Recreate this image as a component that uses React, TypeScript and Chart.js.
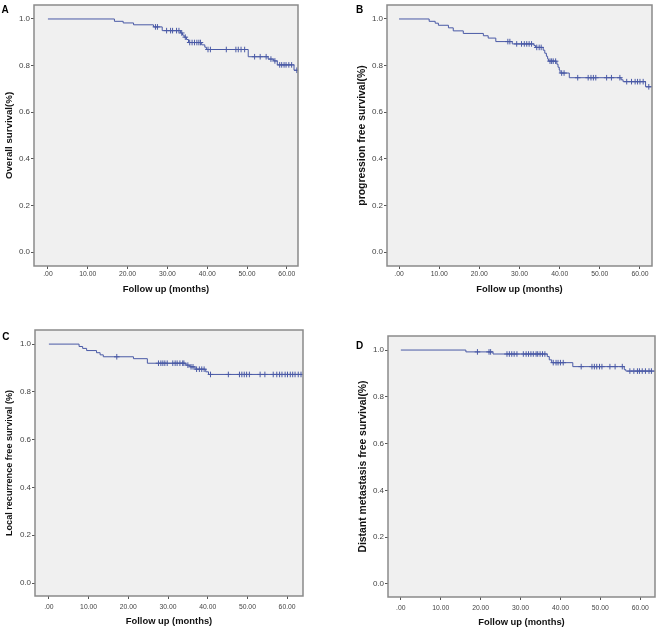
import React, { useEffect, useRef } from "react";
import { Chart, registerables } from "chart.js";

Chart.register(...registerables);

// ---------- data ----------
const X_TICKS = [0, 10, 20, 30, 40, 50, 60];
const X_TICK_LABELS = [".00", "10.00", "20.00", "30.00", "40.00", "50.00", "60.00"];
const Y_TICKS = [0, 0.2, 0.4, 0.6, 0.8, 1.0];
const Y_TICK_LABELS = ["0.0", "0.2", "0.4", "0.6", "0.8", "1.0"];
const X_TITLE = "Follow up (months)";

// A: Overall survival
const OS_TIMES = [0, 16.7, 18.9, 21.5, 26.5, 28.7, 33.3, 33.8, 34.2, 34.8, 35.3, 38.6, 39.4, 39.8, 50.3, 55.3, 56.7, 57.6, 61.8, 62.8];
const OS_SURV = [1.0, 0.99, 0.983, 0.975, 0.966, 0.95, 0.94, 0.931, 0.922, 0.912, 0.899, 0.889, 0.879, 0.869, 0.838, 0.828, 0.82, 0.803, 0.78, 0.78];
const OS_CENSOR = [27.0, 27.5, 29.8, 30.8, 31.3, 32.3, 32.9, 33.6, 34.5, 35.6, 36.2, 36.8, 37.4, 37.9, 38.3, 40.2, 40.8, 44.8, 47.2, 47.8, 48.5, 49.4, 51.9, 53.3, 54.8, 56.0, 57.0, 58.2, 58.7, 59.3, 59.8, 60.5, 61.2, 62.5];

// B: Progression free survival
const PFS_TIMES = [0, 7.5, 9.0, 9.8, 12.3, 13.5, 16.0, 21.0, 22.2, 24.1, 28.2, 33.6, 34.0, 35.9, 36.3, 36.7, 37.0, 37.2, 39.3, 39.6, 39.9, 40.1, 42.4, 55.3, 55.8, 61.4, 63.0];
const PFS_SURV = [1.0, 0.99, 0.982, 0.973, 0.962, 0.949, 0.938, 0.928, 0.918, 0.903, 0.893, 0.886, 0.878, 0.866, 0.853, 0.84, 0.829, 0.819, 0.806, 0.793, 0.781, 0.768, 0.748, 0.739, 0.731, 0.709, 0.709];
const PFS_CENSOR = [27.1, 27.6, 29.3, 30.5, 31.2, 31.8, 32.4, 33.0, 34.3, 34.9, 35.4, 37.6, 38.0, 38.4, 39.0, 40.5, 41.1, 44.5, 47.1, 47.8, 48.4, 49.0, 51.7, 52.9, 55.0, 56.7, 57.9, 58.8, 59.4, 60.0, 60.8, 62.2];

// C: Local recurrence free survival
const LRFS_TIMES = [0, 7.6, 8.5, 9.5, 12.0, 12.9, 13.7, 21.3, 24.8, 34.5, 35.5, 36.8, 39.5, 40.2, 64.0];
const LRFS_SURV = [1.0, 0.99, 0.982, 0.973, 0.964, 0.955, 0.947, 0.939, 0.92, 0.912, 0.905, 0.895, 0.884, 0.873, 0.873];
const LRFS_CENSOR = [17.1, 27.6, 28.2, 28.7, 29.2, 29.8, 31.2, 31.8, 32.3, 33.0, 33.7, 34.0, 35.0, 35.8, 36.3, 37.2, 37.9, 38.5, 39.1, 40.7, 45.2, 48.0, 48.6, 49.2, 49.8, 50.5, 53.2, 54.4, 56.5, 57.4, 58.1, 58.7, 59.5, 60.1, 60.8, 61.4, 62.0, 62.8, 63.5];

// D: Distant metastasis free survival
const DMFS_TIMES = [0, 16.3, 23.1, 36.7, 37.2, 37.8, 43.1, 56.0, 56.4, 63.7];
const DMFS_SURV = [1.0, 0.992, 0.983, 0.972, 0.958, 0.946, 0.929, 0.916, 0.91, 0.91];
const DMFS_CENSOR = [19.2, 22.1, 22.5, 26.6, 27.2, 27.8, 28.4, 29.1, 30.7, 31.4, 32.0, 32.6, 33.2, 33.9, 34.3, 34.9, 35.5, 36.1, 38.2, 38.9, 39.4, 40.0, 40.7, 45.2, 47.9, 48.5, 49.1, 49.8, 50.4, 52.4, 53.7, 55.5, 57.4, 58.4, 59.3, 59.8, 60.5, 61.3, 62.2, 62.8];

// ---------- layout / style ----------
const FONT = "'Liberation Sans', Arial, Helvetica, sans-serif";
const LINE_COLOR = "#4a5aa6";
const BG = "#f0f0f0";
const BOX = "#8a8a8a";

const PANELS = [
  { letter: "A", x: 0, y: 0, w: 330, h: 310, yW: 34, padT: 1, padR: 32, xH: 44, xMin: -3.5, xMax: 62.8, yMin: -0.06, yMax: 1.06,
    yTitle: "Overall survival(%)", yTitleSize: 9.7, yTitlePad: 3.4, xTitlePad: 15.4, xTickPad: 1.5, lx: 5, ly: 10.5,
    times: OS_TIMES, surv: OS_SURV, censor: OS_CENSOR },
  { letter: "B", x: 330, y: 0, w: 330, h: 310, yW: 57, padT: 1, padR: 8, xH: 44, xMin: -3.0, xMax: 63.0, yMin: -0.06, yMax: 1.06,
    yTitle: "progression free survival(%)", yTitleSize: 10.4, yTitlePad: 26.3, xTitlePad: 15.4, xTickPad: 1.5, lx: 29.5, ly: 10.7,
    times: PFS_TIMES, surv: PFS_SURV, censor: PFS_CENSOR },
  { letter: "C", x: 0, y: 315, w: 330, h: 316, yW: 35, padT: 15, padR: 27, xH: 35, xMin: -3.5, xMax: 64.0, yMin: -0.054, yMax: 1.059,
    yTitle: "Local recurrence free survival (%)", yTitleSize: 9.1, yTitlePad: 4.5, xTitlePad: 4.4, xTickPad: 4.5, lx: 5.8, ly: 22.5,
    times: LRFS_TIMES, surv: LRFS_SURV, censor: LRFS_CENSOR },
  { letter: "D", x: 330, y: 315, w: 330, h: 316, yW: 58, padT: 21, padR: 2, xH: 34, xMin: -3.22, xMax: 63.7, yMin: -0.056, yMax: 1.06,
    yTitle: "Distant metastasis free survival(%)", yTitleSize: 10.4, yTitlePad: 27, xTitlePad: 3.4, xTickPad: 4.5, lx: 29.5, ly: 31,
    times: DMFS_TIMES, surv: DMFS_SURV, censor: DMFS_CENSOR },
];

function survAt(times: number[], surv: number[], t: number) {
  let s = surv[0];
  for (let i = 0; i < times.length; i++) if (times[i] <= t) s = surv[i];
  return s;
}

const decoPlugin = {
  id: "deco",
  beforeDraw(chart: any) {
    const { ctx, chartArea: a } = chart;
    ctx.save();
    ctx.fillStyle = BG;
    ctx.fillRect(a.left, a.top, a.right - a.left, a.bottom - a.top);
    ctx.restore();
  },
  afterDraw(chart: any, _args: any, opts: any) {
    const { ctx, chartArea: a } = chart;
    ctx.save();
    ctx.strokeStyle = BOX;
    ctx.lineWidth = 1.5;
    ctx.strokeRect(a.left, a.top, a.right - a.left, a.bottom - a.top);
    ctx.fillStyle = "#000";
    ctx.font = `bold 10px ${FONT}`;
    ctx.textAlign = "center";
    ctx.textBaseline = "middle";
    ctx.fillText(opts.letter, opts.lx, opts.ly);
    ctx.restore();
  },
};

function zeroPad(s: any) {
  s.paddingLeft = 0;
  s.paddingRight = 0;
  s.paddingTop = 0;
  s.paddingBottom = 0;
}

function buildConfig(p: any): any {
  const stepData = p.times.map((t: number, i: number) => ({ x: t, y: p.surv[i] }));
  const censorData = p.censor.map((t: number) => ({ x: t, y: survAt(p.times, p.surv, t) }));
  return {
    type: "line",
    data: {
      datasets: [
        {
          data: stepData,
          stepped: true,
          borderColor: LINE_COLOR,
          borderWidth: 1,
          pointRadius: 0,
          fill: false,
        },
        {
          data: censorData,
          showLine: false,
          pointStyle: "cross",
          pointRadius: 2.8,
          pointBorderWidth: 1,
          pointBorderColor: LINE_COLOR,
          borderColor: LINE_COLOR,
        },
      ],
    },
    options: {
      animation: false,
      responsive: false,
      events: [],
      layout: { padding: { left: 0, top: p.padT, right: p.padR, bottom: 0 } },
      plugins: {
        legend: { display: false },
        tooltip: { enabled: false },
        deco: { letter: p.letter, lx: p.lx, ly: p.ly },
      },
      scales: {
        x: {
          type: "linear",
          min: p.xMin,
          max: p.xMax,
          afterBuildTicks: (s: any) => {
            s.ticks = X_TICKS.map((v) => ({ value: v }));
          },
          afterFit: (s: any) => {
            s.height = p.xH;
            zeroPad(s);
          },
          ticks: {
            autoSkip: false,
            maxRotation: 0,
            padding: p.xTickPad,
            color: "#444",
            font: { family: FONT, size: 6.8 },
            callback: (v: number) => X_TICK_LABELS[X_TICKS.indexOf(v)],
          },
          grid: { display: true, drawOnChartArea: false, drawTicks: true, tickLength: 3, color: "#555" },
          border: { display: false },
          title: {
            display: true,
            text: X_TITLE,
            color: "#111",
            font: { family: FONT, size: 9.4, weight: "bold", lineHeight: 1.2 },
            padding: { top: 0, bottom: p.xTitlePad },
          },
        },
        y: {
          type: "linear",
          min: p.yMin,
          max: p.yMax,
          afterBuildTicks: (s: any) => {
            s.ticks = Y_TICKS.map((v) => ({ value: v }));
          },
          afterFit: (s: any) => {
            s.width = p.yW;
            zeroPad(s);
          },
          ticks: {
            autoSkip: false,
            padding: 1,
            color: "#444",
            font: { family: FONT, size: 8 },
            callback: (v: number) => Y_TICK_LABELS[Y_TICKS.findIndex((t) => Math.abs(t - v) < 1e-9)],
          },
          grid: { display: true, drawOnChartArea: false, drawTicks: true, tickLength: 3, color: "#555" },
          border: { display: false },
          title: {
            display: true,
            text: p.yTitle,
            color: "#111",
            font: { family: FONT, size: p.yTitleSize, weight: "bold", lineHeight: 1.2 },
            padding: { top: p.yTitlePad, bottom: 0 },
          },
        },
      },
    },
    plugins: [decoPlugin],
  };
}

function Panel({ p }: { p: any }) {
  const ref = useRef<HTMLCanvasElement>(null);
  useEffect(() => {
    const chart = new Chart(ref.current as HTMLCanvasElement, buildConfig(p));
    return () => chart.destroy();
  }, [p]);
  return (
    <canvas
      ref={ref}
      width={p.w}
      height={p.h}
      style={{ position: "absolute", left: p.x, top: p.y, width: p.w, height: p.h }}
    />
  );
}

export default function App() {
  return (
    <div style={{ position: "fixed", left: 0, top: 0, width: 660, height: 631, background: "#fff", overflow: "hidden" }}>
      {PANELS.map((p) => (
        <Panel key={p.letter} p={p} />
      ))}
    </div>
  );
}
